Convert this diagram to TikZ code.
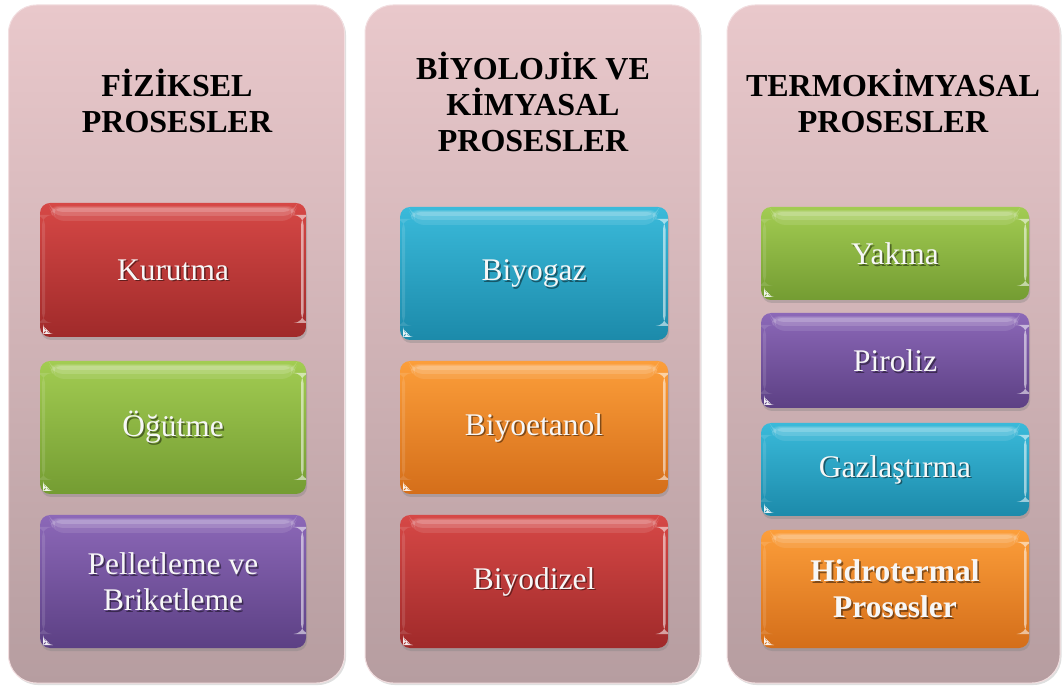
\documentclass[tikz,border=0pt]{standalone}
\usepackage{fontspec}
\setmainfont{Liberation Serif}
\usetikzlibrary{shadows}
\definecolor{panT}{RGB}{233,200,203}
\definecolor{panB}{RGB}{182,157,160}
\definecolor{redT}{RGB}{214,72,70}
\definecolor{redB}{RGB}{160,42,42}
\definecolor{grnT}{RGB}{162,204,82}
\definecolor{grnB}{RGB}{116,156,50}
\definecolor{purT}{RGB}{140,104,184}
\definecolor{purB}{RGB}{92,64,132}
\definecolor{cyaT}{RGB}{58,186,218}
\definecolor{cyaB}{RGB}{28,138,170}
\definecolor{orgT}{RGB}{252,158,58}
\definecolor{orgB}{RGB}{212,110,26}
\tikzset{
  panel/.style={rounded corners=28pt, top color=panT, bottom color=panB,
    draw=white!40!panT, line width=1pt,
    drop shadow={opacity=.25, shadow xshift=1.5pt, shadow yshift=-2pt}},
  gloss/.style={path picture={
    \fill[white,opacity=.10] ([xshift=8pt,yshift=-3pt]path picture bounding box.north west)
        -- ([xshift=-8pt,yshift=-3pt]path picture bounding box.north east)
        -- ([xshift=-14pt,yshift=-18pt]path picture bounding box.north east)
        -- ([xshift=14pt,yshift=-18pt]path picture bounding box.north west) -- cycle;
    \fill[white,opacity=.14] ([xshift=9pt,yshift=-4pt]path picture bounding box.north west)
        -- ([xshift=-9pt,yshift=-4pt]path picture bounding box.north east)
        -- ([xshift=-13pt,yshift=-13pt]path picture bounding box.north east)
        -- ([xshift=13pt,yshift=-13pt]path picture bounding box.north west) -- cycle;
    \fill[white,opacity=.18] ([xshift=11pt,yshift=-5pt]path picture bounding box.north west)
        -- ([xshift=-11pt,yshift=-5pt]path picture bounding box.north east)
        -- ([xshift=-13pt,yshift=-9pt]path picture bounding box.north east)
        -- ([xshift=13pt,yshift=-9pt]path picture bounding box.north west) -- cycle;
    \fill[white,opacity=.55] ([xshift=-5pt,yshift=-12pt]path picture bounding box.north east)
        rectangle ([xshift=-2.5pt,yshift=14pt]path picture bounding box.south east);
    \fill[white,opacity=.12] ([xshift=2pt,yshift=-12pt]path picture bounding box.north west)
        rectangle ([xshift=5pt,yshift=14pt]path picture bounding box.south west);
    \fill[white,opacity=.9] ([xshift=3pt,yshift=3pt]path picture bounding box.south west)
        -- ++(8pt,0) -- ++(-8pt,8pt) -- cycle;
  }},
  pbox/.style={rounded corners=10pt, draw=none, gloss,
    drop shadow={opacity=.35, shadow xshift=1pt, shadow yshift=-3pt}},
  ttl/.style={font=\bfseries\fontsize{32}{36}\selectfont, align=center, text=black, anchor=base},
  wtxt/.style={font=\fontsize{31.5}{36}\selectfont, align=center, text=white!97!black},
  shtxt/.style={wtxt, text=black, opacity=.45},
}
\newcommand\pbx[8]{%
  \node[pbox, top color=#6T, bottom color=#6B, minimum width=#4pt, minimum height=#5pt] (#1) at (#2,#3) {};
  \node[shtxt] at ([xshift=1.6pt,yshift=-1.8pt]#1.center) {#8};
  \node[wtxt] (#1t) at ([yshift=#7pt]#1.center) {#8};
}
\begin{document}
\begin{tikzpicture}[x=1pt,y=1pt]
\useasboundingbox (0,0) rectangle (1062,688);
% panels
\node[panel, minimum width=336pt, minimum height=678pt] (p1) at (176.5,344) {};
\node[panel, minimum width=335pt, minimum height=678pt] (p2) at (532.5,344) {};
\node[panel, minimum width=333pt, minimum height=678pt] (p3) at (893.5,344) {};
% titles (anchor = baseline of last line)
\node[ttl] (t1) at (177,555) {FİZİKSEL\\PROSESLER};
\node[ttl] (t2) at (533,536) {BİYOLOJİK VE\\KİMYASAL\\PROSESLER};
\node[ttl] (t3) at (893,555) {TERMOKİMYASAL\\PROSESLER};
% column 1
\pbx{kur}{173}{418}{266}{134}{red}{0}{Kurutma}
\pbx{ogu}{173}{260.5}{266}{133}{grn}{0}{Öğütme}
\pbx{pel}{173}{106.5}{266}{133}{pur}{0}{Pelletleme ve\\Briketleme}
% column 2
\pbx{bgz}{534}{414.5}{268}{133}{cya}{0}{Biyogaz}
\pbx{bet}{534}{260.5}{268}{133}{org}{0}{Biyoetanol}
\pbx{bdz}{534}{106.5}{268}{133}{red}{0}{Biyodizel}
% column 3
\pbx{yak}{895}{434.5}{268}{93}{grn}{0}{Yakma}
\pbx{pir}{895}{327.5}{268}{95}{pur}{0}{Piroliz}
\pbx{gaz}{895}{218.5}{268}{93}{cya}{0}{Gazlaştırma}
\pbx{hid}{895}{99}{268}{118}{org}{0}{\textbf{Hidrotermal}\\\textbf{Prosesler}}
\end{tikzpicture}
\end{document}
